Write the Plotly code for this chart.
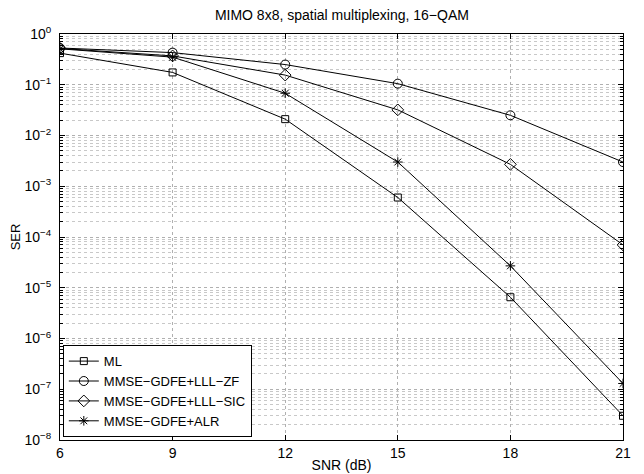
import plotly.graph_objects as go

snr = [6, 9, 12, 15, 18, 21]
ser_ml = [0.42, 0.175, 0.021, 6.0e-4, 6.5e-6, 3.0e-8]
ser_zf = [0.53, 0.43, 0.25, 0.105, 0.025, 3.0e-3]
ser_sic = [0.52, 0.37, 0.155, 0.032, 2.7e-3, 7.0e-5]
ser_alr = [0.51, 0.35, 0.068, 3.0e-3, 2.7e-5, 1.3e-7]

names = ["ML", "MMSE\u2212GDFE+LLL\u2212ZF", "MMSE\u2212GDFE+LLL\u2212SIC", "MMSE\u2212GDFE+ALR"]
series = [ser_ml, ser_zf, ser_sic, ser_alr]
symbols = ["square-open", "circle-open", "diamond-open", "asterisk-open"]
sizes = [7, 9, 9, 8]

y_exps = list(range(-8, 1))
y_tickvals = [10.0 ** e for e in y_exps]
y_ticktext = ["10<sup>%s</sup>" % (str(e).replace("-", "\u2212")) for e in y_exps]
minor_vals = [m * 10.0 ** e for e in range(-8, 0) for m in range(2, 10)]

x_ticks = [6, 9, 12, 15, 18, 21]

font_family = "Liberation Sans, Arial, Helvetica, sans-serif"

fig = go.Figure()
for name, ys, sym, sz in zip(names, series, symbols, sizes):
    fig.add_trace(go.Scatter(
        x=snr, y=ys, name=name, mode="lines+markers",
        line=dict(color="black", width=1),
        marker=dict(symbol=sym, size=sz, color="black",
                    line=dict(color="black", width=1)),
    ))

# the page body has an 8px margin, so the figure is sized to fit the window
fig.update_layout(
    width=636, height=466,
    margin=dict(l=52, r=21, t=26, b=34, autoexpand=False),
    paper_bgcolor="white", plot_bgcolor="white",
    font=dict(family=font_family, size=14, color="black"),
    title=dict(text="MIMO 8x8, spatial multiplexing, 16\u2212QAM",
               x=0.525, xanchor="center", y=0.985, yanchor="middle",
               font=dict(size=14)),
    showlegend=True,
    legend=dict(x=0.005, y=0.007, xanchor="left", yanchor="bottom",
                bgcolor="white", bordercolor="black", borderwidth=1,
                font=dict(size=13), tracegroupgap=0, itemwidth=30),
)

fig.update_xaxes(
    range=[6, 21], tickvals=x_ticks, ticktext=[str(v) for v in x_ticks],
    showline=True, linecolor="black", linewidth=1, mirror="ticks",
    ticks="inside", ticklen=5, tickcolor="black",
    showgrid=True, gridcolor="#b0b0b0", griddash="dot", gridwidth=1,
    zeroline=False, automargin=False,
    title=dict(text="SNR (dB)", standoff=0, font=dict(size=14)),
)
fig.update_yaxes(
    type="log", range=[-8, 0], tickvals=y_tickvals, ticktext=y_ticktext,
    showline=True, linecolor="black", linewidth=1, mirror="ticks",
    ticks="inside", ticklen=5, tickcolor="black", ticklabelstandoff=5,
    showgrid=True, gridcolor="#b0b0b0", griddash="dot", gridwidth=1,
    zeroline=False, automargin=False,
    minor=dict(tickvals=minor_vals, ticks="inside", ticklen=3,
               tickcolor="black", showgrid=True, gridcolor="#c8c8c8",
               griddash="dot", gridwidth=1),
    title=dict(text="SER", standoff=4, font=dict(size=13)),
)

fig.write_html("out.html")
